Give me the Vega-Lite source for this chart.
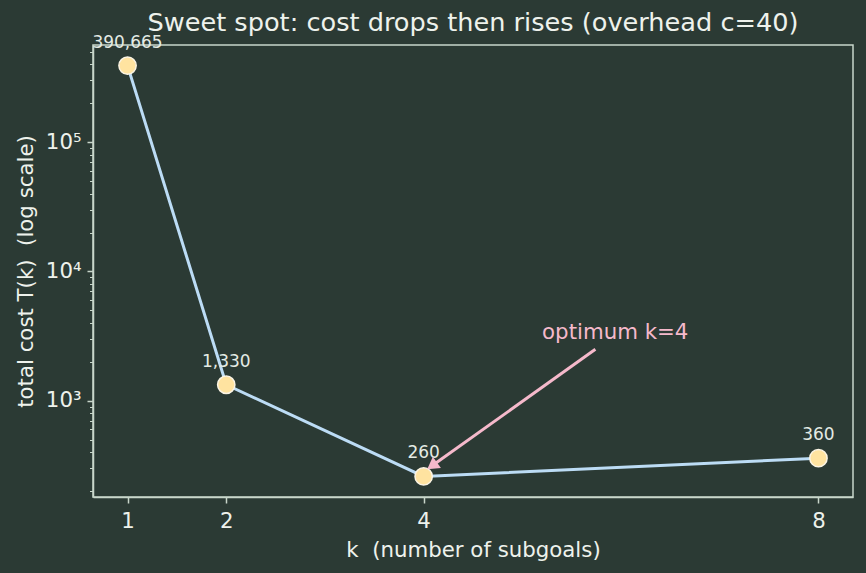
{
  "$schema": "https://vega.github.io/schema/vega-lite/v6.json",
  "width": 760,
  "height": 452,
  "autosize": "none",
  "padding": {"left": 93, "top": 45, "right": 13, "bottom": 76},
  "background": "#2b3a34",
  "config": {
    "view": {"stroke": "#c8d6ca", "strokeWidth": 1.5},
    "font": "DejaVu Sans",
    "axis": {
      "domainColor": "#c8d6ca", "tickColor": "#c8d6ca", "domainWidth": 1.5, "tickWidth": 1.5,
      "labelColor": "#eef2ec", "titleColor": "#eef2ec",
      "labelFont": "DejaVu Sans", "titleFont": "DejaVu Sans",
      "labelFontSize": 21.3, "titleFontSize": 21.3, "titleFontWeight": "normal", "grid": false
    }
  },
  "title": {"text": "Sweet spot: cost drops then rises (overhead c=40)", "fontSize": 25.6, "fontWeight": "normal", "color": "#eef2ec", "font": "DejaVu Sans", "offset": -3},
  "datasets": {
    "main": [
      {"k": 1, "cost": 390665, "label": "390,665"},
      {"k": 2, "cost": 1330, "label": "1,330"},
      {"k": 4, "cost": 260, "label": "260"},
      {"k": 8, "cost": 360, "label": "360"}
    ],
    "arrow": [{"k": 5.74, "cost": 2500}, {"k": 4.085, "cost": 314}],
    "head": [{"k": 4.085, "cost": 314}],
    "note": [{"k": 5.2, "cost": 3000, "text": "optimum k=4"}]
  },
  "layer": [
    {
      "data": {"name": "main"},
      "mark": {"type": "line", "color": "#bcdcf5", "strokeWidth": 3},
      "encoding": {
        "x": {"field": "k", "type": "quantitative", "scale": {"domain": [0.65, 8.35], "nice": false, "zero": false},
              "axis": {"values": [1, 2, 4, 8], "format": "d", "title": "k \u00a0(number of subgoals)", "tickSize": 6, "labelPadding": 7, "titlePadding": 8}},
        "y": {"field": "cost", "type": "quantitative", "scale": {"type": "log", "domain": [180.3, 563600], "nice": false},
              "axis": {
                "values": [200,300,400,500,600,700,800,900,1000,2000,3000,4000,5000,6000,7000,8000,9000,10000,20000,30000,40000,50000,60000,70000,80000,90000,100000,200000,300000,400000,500000],
                "labelExpr": "datum.value==1000 ? '10³' : datum.value==10000 ? '10⁴' : datum.value==100000 ? '10⁵' : ''",
                "tickSize": {"condition": {"test": "datum.value==1000 || datum.value==10000 || datum.value==100000", "value": 6}, "value": 3.5},
                "tickWidth": {"condition": {"test": "datum.value==1000 || datum.value==10000 || datum.value==100000", "value": 1.5}, "value": 1},
                "labelPadding": 6, "labelOverlap": false, "labelBound": false,
                "title": "total cost T(k) \u00a0(log scale)", "titlePadding": 9}}
      }
    },
    {
      "data": {"name": "main"},
      "mark": {"type": "circle", "size": 300, "color": "#ffe3a0", "stroke": "#fbf4e4", "strokeWidth": 1.5, "opacity": 1},
      "encoding": {
        "x": {"field": "k", "type": "quantitative"},
        "y": {"field": "cost", "type": "quantitative"}
      }
    },
    {
      "data": {"name": "main"},
      "mark": {"type": "text", "dy": -18, "baseline": "alphabetic", "fontSize": 17, "color": "#e4ebe4"},
      "encoding": {
        "x": {"field": "k", "type": "quantitative"},
        "y": {"field": "cost", "type": "quantitative"},
        "text": {"field": "label"}
      }
    },
    {
      "data": {"name": "arrow"},
      "mark": {"type": "line", "color": "#f5b9cb", "strokeWidth": 3},
      "encoding": {
        "x": {"field": "k", "type": "quantitative"},
        "y": {"field": "cost", "type": "quantitative"}
      }
    },
    {
      "data": {"name": "head"},
      "mark": {"type": "point", "shape": "triangle-up", "filled": true, "size": 190, "angle": 234, "color": "#f5b9cb", "opacity": 1},
      "encoding": {
        "x": {"field": "k", "type": "quantitative"},
        "y": {"field": "cost", "type": "quantitative"}
      }
    },
    {
      "data": {"name": "note"},
      "mark": {"type": "text", "align": "left", "baseline": "alphabetic", "fontSize": 21.3, "color": "#f5b9cb"},
      "encoding": {
        "x": {"field": "k", "type": "quantitative"},
        "y": {"field": "cost", "type": "quantitative"},
        "text": {"field": "text"}
      }
    }
  ]
}
